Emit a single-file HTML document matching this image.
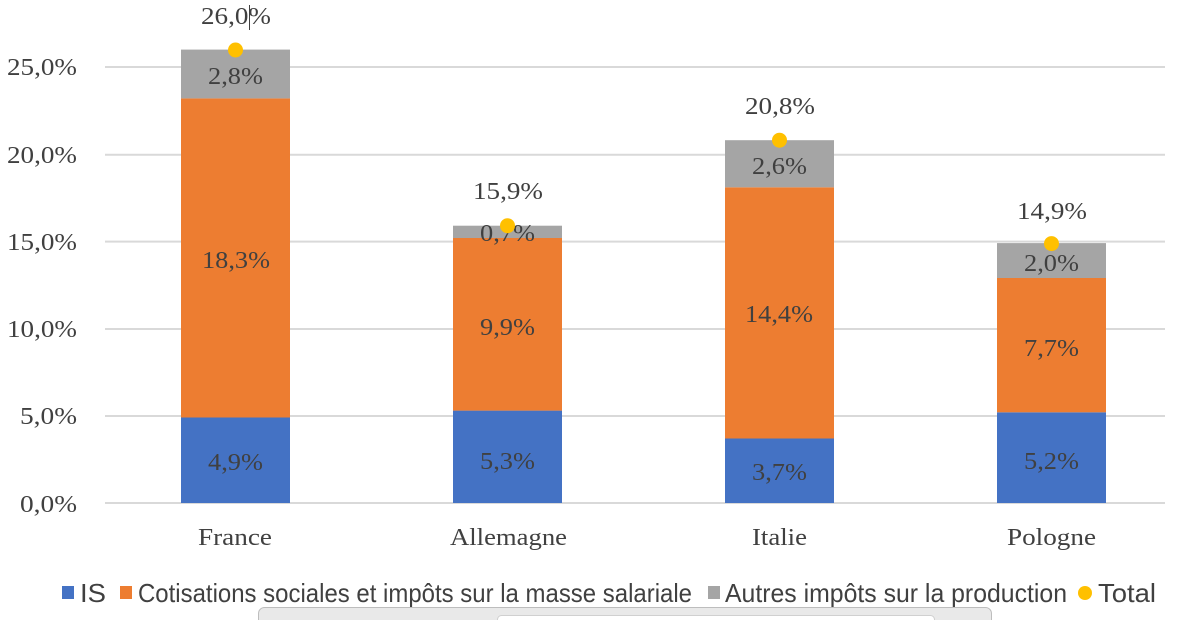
<!DOCTYPE html>
<html><head><meta charset="utf-8"><style>
html,body{margin:0;padding:0;background:#fff;width:1180px;height:620px;overflow:hidden}
svg text{font-family:"Liberation Serif",serif;fill:#404040}
</style></head><body>
<svg width="1180" height="620" xmlns="http://www.w3.org/2000/svg">
<g stroke="#d9d9d9" stroke-width="2">
<line x1="105" x2="1165" y1="67" y2="67"/>
<line x1="105" x2="1165" y1="154.8" y2="154.8"/>
<line x1="105" x2="1165" y1="241.6" y2="241.6"/>
<line x1="105" x2="1165" y1="329" y2="329"/>
<line x1="105" x2="1165" y1="416" y2="416"/>
<line x1="105" x2="1165" y1="503" y2="503"/>
</g>
<g font-size="24">
<text x="7" y="75" textLength="70" lengthAdjust="spacingAndGlyphs">25,0%</text>
<text x="7" y="163" textLength="70" lengthAdjust="spacingAndGlyphs">20,0%</text>
<text x="7" y="250" textLength="70" lengthAdjust="spacingAndGlyphs">15,0%</text>
<text x="7" y="337" textLength="70" lengthAdjust="spacingAndGlyphs">10,0%</text>
<text x="20" y="424" textLength="57" lengthAdjust="spacingAndGlyphs">5,0%</text>
<text x="20" y="512" textLength="57" lengthAdjust="spacingAndGlyphs">0,0%</text>
</g>
<rect x="181" y="417.5" width="109" height="85.5" fill="#4472c4"/>
<rect x="181" y="98.4" width="109" height="319.1" fill="#ed7d31"/>
<rect x="181" y="49.6" width="109" height="48.8" fill="#a5a5a5"/>
<rect x="453" y="410.6" width="109" height="92.4" fill="#4472c4"/>
<rect x="453" y="238" width="109" height="172.6" fill="#ed7d31"/>
<rect x="453" y="225.7" width="109" height="12.3" fill="#a5a5a5"/>
<rect x="725" y="438.5" width="109" height="64.5" fill="#4472c4"/>
<rect x="725" y="187.3" width="109" height="251.2" fill="#ed7d31"/>
<rect x="725" y="140.2" width="109" height="47.1" fill="#a5a5a5"/>
<rect x="997" y="412.3" width="109" height="90.7" fill="#4472c4"/>
<rect x="997" y="278" width="109" height="134.3" fill="#ed7d31"/>
<rect x="997" y="243.1" width="109" height="34.9" fill="#a5a5a5"/>
<g font-size="24">
<text x="208" y="470" textLength="55" lengthAdjust="spacingAndGlyphs">4,9%</text>
<text x="202" y="268" textLength="68" lengthAdjust="spacingAndGlyphs">18,3%</text>
<text x="208" y="84" textLength="55" lengthAdjust="spacingAndGlyphs">2,8%</text>
<text x="201" y="24" textLength="70" lengthAdjust="spacingAndGlyphs">26,0%</text>
<text x="480" y="469" textLength="55" lengthAdjust="spacingAndGlyphs">5,3%</text>
<text x="480" y="335" textLength="55" lengthAdjust="spacingAndGlyphs">9,9%</text>
<text x="480" y="241" textLength="55" lengthAdjust="spacingAndGlyphs">0,7%</text>
<text x="473" y="199" textLength="70" lengthAdjust="spacingAndGlyphs">15,9%</text>
<text x="752" y="480" textLength="55" lengthAdjust="spacingAndGlyphs">3,7%</text>
<text x="745" y="322" textLength="68" lengthAdjust="spacingAndGlyphs">14,4%</text>
<text x="752" y="174" textLength="55" lengthAdjust="spacingAndGlyphs">2,6%</text>
<text x="745" y="114" textLength="70" lengthAdjust="spacingAndGlyphs">20,8%</text>
<text x="1024" y="469" textLength="55" lengthAdjust="spacingAndGlyphs">5,2%</text>
<text x="1024" y="356" textLength="55" lengthAdjust="spacingAndGlyphs">7,7%</text>
<text x="1024" y="271" textLength="55" lengthAdjust="spacingAndGlyphs">2,0%</text>
<text x="1017" y="219" textLength="70" lengthAdjust="spacingAndGlyphs">14,9%</text>
</g>
<line x1="249.5" y1="5" x2="249.5" y2="30" stroke="#404040" stroke-width="1"/>
<g fill="#ffc000">
<circle cx="235.5" cy="50" r="7.5"/>
<circle cx="507.5" cy="225.7" r="7.5"/>
<circle cx="779.5" cy="140.2" r="7.5"/>
<circle cx="1051.5" cy="243.6" r="7.5"/>
</g>
<g font-size="24">
<text x="198" y="545" textLength="74" lengthAdjust="spacingAndGlyphs">France</text>
<text x="450" y="545" textLength="117" lengthAdjust="spacingAndGlyphs">Allemagne</text>
<text x="752" y="545" textLength="55" lengthAdjust="spacingAndGlyphs">Italie</text>
<text x="1007" y="545" textLength="89" lengthAdjust="spacingAndGlyphs">Pologne</text>
</g>
<g font-size="26">
<rect x="62" y="586" width="12" height="13" fill="#4472c4"/>
<text x="80" y="602" style="font-family:'Liberation Sans',sans-serif" textLength="26" lengthAdjust="spacingAndGlyphs">IS</text>
<rect x="120" y="586" width="12" height="13" fill="#ed7d31"/>
<text x="138" y="602" style="font-family:'Liberation Sans',sans-serif" textLength="554" lengthAdjust="spacingAndGlyphs">Cotisations sociales et impôts sur la masse salariale</text>
<rect x="708" y="586" width="12" height="13" fill="#a5a5a5"/>
<text x="725" y="602" style="font-family:'Liberation Sans',sans-serif" textLength="342" lengthAdjust="spacingAndGlyphs">Autres impôts sur la production</text>
<circle cx="1085" cy="593" r="7" fill="#ffc000"/>
<text x="1098" y="602" style="font-family:'Liberation Sans',sans-serif" textLength="58" lengthAdjust="spacingAndGlyphs">Total</text>
</g>
<rect x="258.5" y="607.5" width="733" height="20" rx="6" fill="#e9e9e9" stroke="#bdbdbd"/>
<rect x="497.5" y="615.5" width="437" height="12" rx="4" fill="#fff" stroke="#d0d0d0"/>
</svg>
</body></html>
